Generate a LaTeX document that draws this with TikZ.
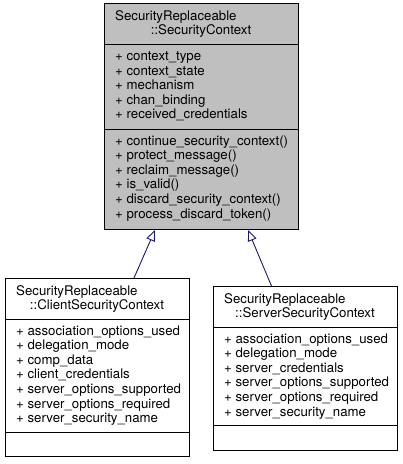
\documentclass[tikz,border=0pt]{standalone}
\usepackage{fontspec}
\setmainfont{TeX Gyre Heros}
\usetikzlibrary{positioning, arrows.meta}

\definecolor{basegray}{RGB}{191,191,191}
\definecolor{inheritblue}{RGB}{25,25,112}

\tikzset{
	classbox/.style={draw=black, line width=1pt, inner sep=0pt, anchor=north west},
	member/.style={inner sep=0pt, anchor=base west},
	heading/.style={inner sep=0pt, anchor=base},
	inherit/.style={draw=inheritblue, line width=0.9pt, -{Triangle[open, length=11pt, width=9pt, fill=white]}}
}

\begin{document}
\begin{tikzpicture}[x=1pt, y=-1pt, every node/.style={font=\fontsize{13.25}{14.6}\selectfont}]
					\useasboundingbox (0,0) rectangle (403,464);

					% base class
					\node[classbox, fill=basegray, minimum width=194pt, minimum height=226pt] (base) at (104,3) {};
					\draw[line width=1pt] (base.west |- 0,44.5) -- (base.east |- 0,44.5);
					\draw[line width=1pt] (base.west |- 0,129) -- (base.east |- 0,129);
					\node[member] (baseT1) at (115,20) {SecurityReplaceable};
					\node[heading] (baseT2) at (201,34.6) {::SecurityContext};
					\node[member] (baseA1) at (115,60.5) {+ context\_type};
					\node[member] (baseA2) at (115,75.1) {+ context\_state};
					\node[member] (baseA3) at (115,89.7) {+ mechanism};
					\node[member] (baseA4) at (115,104.3) {+ chan\_binding};
					\node[member] (baseA5) at (115,118.9) {+ received\_credentials};
					\node[member] (baseM1) at (115,145) {+ continue\_security\_context()};
					\node[member] (baseM2) at (115,159.6) {+ protect\_message()};
					\node[member] (baseM3) at (115,174.2) {+ reclaim\_message()};
					\node[member] (baseM4) at (115,188.8) {+ is\_valid()};
					\node[member] (baseM5) at (115,203.4) {+ discard\_security\_context()};
					\node[member] (baseM6) at (115,218) {+ process\_discard\_token()};

					% client class
					\node[classbox, minimum width=184pt, minimum height=178pt] (client) at (5,278) {};
					\draw[line width=1pt] (client.west |- 0,319.5) -- (client.east |- 0,319.5);
					\draw[line width=1pt] (client.west |- 0,432) -- (client.east |- 0,432);
					\node[member] (clientT1) at (16,295) {SecurityReplaceable};
					\node[heading] (clientT2) at (97,309.6) {::ClientSecurityContext};
					\node[member] (clientA1) at (16,335) {+ association\_options\_used};
					\node[member] (clientA2) at (16,349.6) {+ delegation\_mode};
					\node[member] (clientA3) at (16,364.2) {+ comp\_data};
					\node[member] (clientA4) at (16,378.8) {+ client\_credentials};
					\node[member] (clientA5) at (16,393.4) {+ server\_options\_supported};
					\node[member] (clientA6) at (16,408) {+ server\_options\_required};
					\node[member] (clientA7) at (16,422.6) {+ server\_security\_name};

					% server class
					\node[classbox, minimum width=184pt, minimum height=163.5pt] (server) at (213,286) {};
					\draw[line width=1pt] (server.west |- 0,327.5) -- (server.east |- 0,327.5);
					\draw[line width=1pt] (server.west |- 0,425.5) -- (server.east |- 0,425.5);
					\node[member] (serverT1) at (224,303) {SecurityReplaceable};
					\node[heading] (serverT2) at (305,317.6) {::ServerSecurityContext};
					\node[member] (serverA1) at (224,343) {+ association\_options\_used};
					\node[member] (serverA2) at (224,357.6) {+ delegation\_mode};
					\node[member] (serverA3) at (224,372.2) {+ server\_credentials};
					\node[member] (serverA4) at (224,386.8) {+ server\_options\_supported};
					\node[member] (serverA5) at (224,401.4) {+ server\_options\_required};
					\node[member] (serverA6) at (224,416) {+ server\_security\_name};

					% inheritance
					\draw[inherit] (client.north -| 134,0) -- (base.south -| 155,0);
					\draw[inherit] (server.north -| 271.5,0) -- (base.south -| 248,0);
				\end{tikzpicture}
\end{document}
